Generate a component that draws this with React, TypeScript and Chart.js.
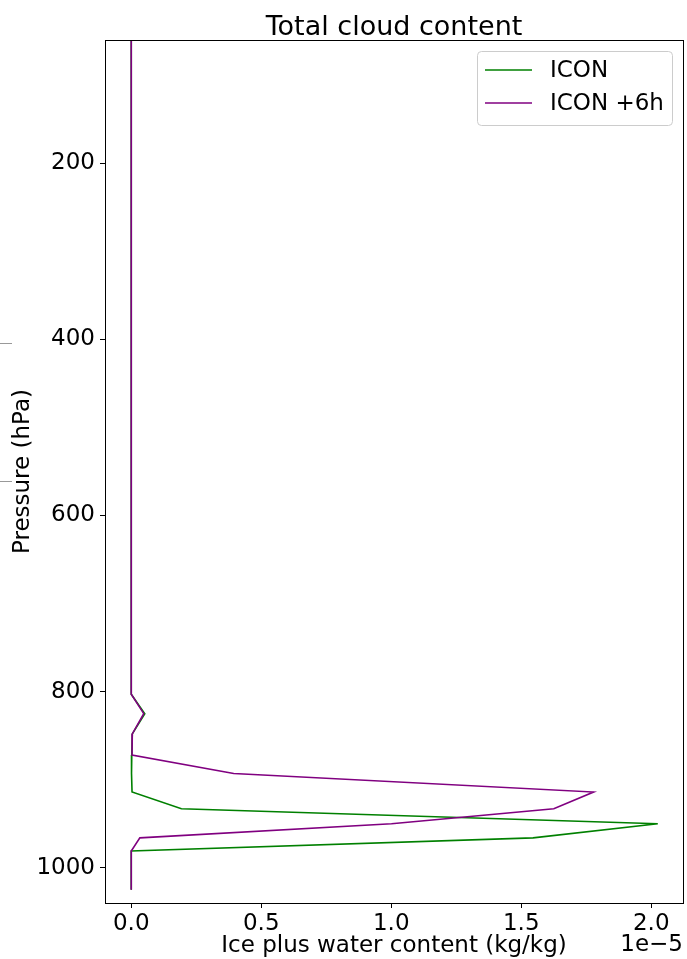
import { useEffect, useRef } from 'react';
import { Chart, registerables } from 'chart.js';

Chart.register(...registerables);

// Pressure levels of the vertical profile (hPa), top of atmosphere first
const pressureLevels = [50, 100, 150, 200, 250, 300, 350, 400, 450, 500, 550, 600, 650, 700, 750, 803, 825, 848, 872, 893, 914, 933, 950, 966, 981, 994, 1005, 1014, 1025];

// Ice plus water content (kg/kg) at each level
const iconValues = [0, 0, 0, 0, 0, 0, 0, 0, 0, 0, 0, 0, 0, 0, 0, 0, 0.052e-5, 0.004e-5, 0.002e-5, 0.001e-5, 0.003e-5, 0.193e-5, 2.025e-5, 1.545e-5, 0, 0, 0, 0, 0];
const iconPlus6hValues = [0, 0, 0, 0, 0, 0, 0, 0, 0, 0, 0, 0, 0, 0, 0, 0, 0.048e-5, 0.004e-5, 0.003e-5, 0.394e-5, 1.778e-5, 1.625e-5, 1.001e-5, 0.033e-5, 0, 0, 0, 0, 0];

const seriesLabels = ['ICON', 'ICON +6h'];
const seriesColors = ['#008000', '#800080'];
// later series is painted over the earlier one
const seriesOrder = [1, 0];

const pressureTicks = [200, 400, 600, 800, 1000];
const contentTicks = [0, 0.5e-5, 1.0e-5, 1.5e-5, 2.0e-5];
const contentExponent = 1e-5;
const exponentLabel = '1e\u22125';

const titleText = 'Total cloud content';
const xTitle = 'Ice plus water content (kg/kg)';
const yTitle = 'Pressure (hPa)';

const FONT = "'DejaVu Sans', sans-serif";
const LABEL_SIZE = 23;
const LINE_WIDTH = 1.6;

const framePlugin = {
  id: 'frame',
  afterDraw(chart: any) {
    const { ctx, chartArea: a } = chart;
    ctx.save();

    // axes box
    ctx.strokeStyle = '#000';
    ctx.lineWidth = 1;
    ctx.strokeRect(Math.round(a.left) + 0.5, Math.round(a.top) + 0.5, Math.round(a.right - a.left), Math.round(a.bottom - a.top));

    // title
    ctx.fillStyle = '#000';
    ctx.font = `27px ${FONT}`;
    ctx.textAlign = 'center';
    ctx.textBaseline = 'alphabetic';
    ctx.fillText(titleText, (a.left + a.right) / 2, a.top - 5);

    // scale exponent next to the x axis
    ctx.font = `${LABEL_SIZE}px ${FONT}`;
    ctx.textAlign = 'right';
    ctx.fillText(exponentLabel, a.right, 951);

    // legend
    const bw = 195, bh = 74;
    const bx = a.right - 11 - bw;
    const by = a.top + 11;
    ctx.beginPath();
    ctx.roundRect(bx + 0.5, by + 0.5, bw, bh, 4);
    ctx.fillStyle = 'rgba(255,255,255,0.8)';
    ctx.fill();
    ctx.strokeStyle = '#cccccc';
    ctx.stroke();
    chart.data.datasets.forEach((ds: any, i: number) => {
      const ly = by + 19 + i * 33;
      ctx.beginPath();
      ctx.strokeStyle = ds.borderColor;
      ctx.lineWidth = LINE_WIDTH;
      ctx.moveTo(bx + 8, ly);
      ctx.lineTo(bx + 55, ly);
      ctx.stroke();
      ctx.fillStyle = '#000';
      ctx.font = `${LABEL_SIZE}px ${FONT}`;
      ctx.textAlign = 'left';
      ctx.textBaseline = 'middle';
      ctx.fillText(ds.label, bx + 73, ly + 1);
    });

    // edge marks on the left border
    ctx.strokeStyle = '#999999';
    ctx.lineWidth = 1;
    [343, 481].forEach((y) => {
      ctx.beginPath();
      ctx.moveTo(0, y + 0.5);
      ctx.lineTo(12, y + 0.5);
      ctx.stroke();
    });

    ctx.restore();
  },
};

export default function App() {
  const canvasRef = useRef<HTMLCanvasElement | null>(null);

  useEffect(() => {
    document.body.style.margin = '0';
    const canvas = canvasRef.current;
    if (!canvas) return;

    const series = [iconValues, iconPlus6hValues];
    const chart = new Chart(canvas, {
      type: 'scatter',
      data: {
        datasets: series.map((values, i) => ({
          label: seriesLabels[i],
          data: values.map((v, k) => ({ x: v, y: pressureLevels[k] })),
          order: seriesOrder[i],
          showLine: true,
          borderColor: seriesColors[i],
          backgroundColor: seriesColors[i],
          borderWidth: LINE_WIDTH,
          pointRadius: 0,
          pointHoverRadius: 0,
          tension: 0,
        })),
      },
      options: {
        responsive: false,
        animation: false,
        events: [],
        layout: { padding: { top: 40, right: 4, left: 0, bottom: 0 } },
        plugins: {
          legend: { display: false },
          title: { display: false },
          tooltip: { enabled: false },
        },
        scales: {
          x: {
            type: 'linear',
            min: -0.101e-5,
            max: 2.122e-5,
            afterBuildTicks: (scale: any) => {
              scale.ticks = contentTicks.map((v) => ({ value: v }));
            },
            afterFit: (scale: any) => {
              scale.height = 56;
            },
            ticks: {
              color: '#000',
              font: { family: FONT, size: LABEL_SIZE },
              padding: 2,
              maxRotation: 0,
              autoSkip: false,
              callback: (v: any) => (Number(v) / contentExponent).toFixed(1),
            },
            grid: {
              drawOnChartArea: false,
              drawTicks: true,
              tickLength: 5,
              color: '#000',
            },
            border: { display: false },
            title: {
              display: true,
              text: xTitle,
              color: '#000',
              font: { family: FONT, size: LABEL_SIZE },
              padding: { top: 0, bottom: -1 },
            },
          },
          y: {
            type: 'linear',
            reverse: true,
            min: 60,
            max: 1040,
            afterBuildTicks: (scale: any) => {
              scale.ticks = pressureTicks.map((v) => ({ value: v }));
            },
            afterFit: (scale: any) => {
              scale.width = 105;
            },
            ticks: {
              color: '#000',
              font: { family: FONT, size: LABEL_SIZE },
              padding: 5,
              autoSkip: false,
              callback: (v: any) => String(v),
            },
            grid: {
              drawOnChartArea: false,
              drawTicks: true,
              tickLength: 5,
              color: '#000',
            },
            border: { display: false },
            title: {
              display: true,
              text: yTitle,
              color: '#000',
              font: { family: FONT, size: LABEL_SIZE },
              padding: { top: 9, bottom: 0 },
            },
          },
        },
      },
      plugins: [framePlugin],
    } as any);

    return () => chart.destroy();
  }, []);

  return <canvas ref={canvasRef} width={687} height={959} style={{ display: 'block' }} />;
}
